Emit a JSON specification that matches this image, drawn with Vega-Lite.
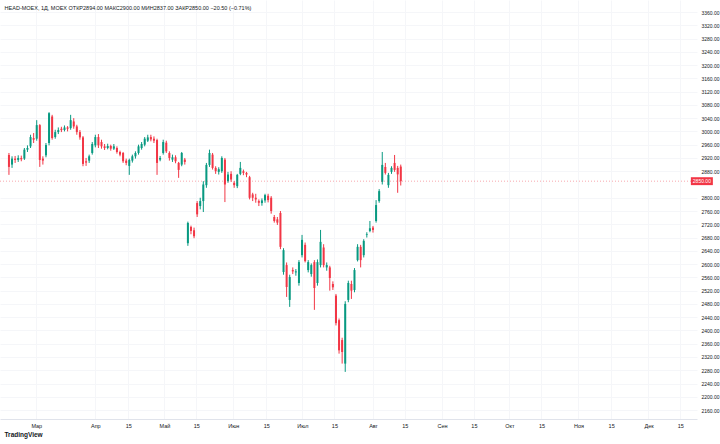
{
 "$schema": "https://vega.github.io/schema/vega-lite/v6.json",
 "width": 697,
 "height": 419,
 "autosize": {"type": "none"},
 "padding": {"left": 0, "top": 0, "right": 23, "bottom": 25},
 "background": "#ffffff",
 "config": {
  "view": {"stroke": null},
  "font": "Liberation Sans",
  "axisX": {"grid": true, "gridColor": "#f5f6f9", "ticks": false, "domain": true, "domainColor": "#e0e3eb", "labelFontSize": 5.5, "labelColor": "#131722", "labelPadding": 4, "labelFlush": false, "labelOverlap": false, "labelBound": false},
  "axisY": {"grid": true, "gridColor": "#f5f6f9", "ticks": false, "domain": false, "labelFontSize": 5, "labelColor": "#131722", "labelPadding": 4, "labelOverlap": false, "labelFlush": false, "labelBound": false}
 },
 "title": {"text": "HEAD-MOEX, 1Д, MOEX  ОТКР2894.00  МАКС2900.00  МИН2837.00  ЗАКР2850.00  −20.50 (−0.71%)", "anchor": "start", "orient": "top", "offset": -11, "dx": 5, "fontSize": 5.5, "fontWeight": "normal", "color": "#131722"},
 "datasets": {
  "candles": [
    {"open":2929,"high":2935,"low":2869,"close":2893},
    {"open":2900,"high":2925,"low":2890,"close":2918},
    {"open":2918,"high":2926,"low":2905,"close":2914},
    {"open":2914,"high":2928,"low":2908,"close":2920},
    {"open":2920,"high":2927,"low":2910,"close":2916},
    {"open":2918,"high":2950,"low":2914,"close":2945},
    {"open":2945,"high":2958,"low":2938,"close":2950},
    {"open":2955,"high":2990,"low":2950,"close":2983},
    {"open":2980,"high":2995,"low":2965,"close":2975},
    {"open":2978,"high":3034,"low":2972,"close":3019},
    {"open":3019,"high":3022,"low":2893,"close":2914},
    {"open":2918,"high":2925,"low":2900,"close":2912},
    {"open":2928,"high":2965,"low":2922,"close":2959},
    {"open":2965,"high":3058,"low":2958,"close":3055},
    {"open":3045,"high":3050,"low":2975,"close":2980},
    {"open":2983,"high":3005,"low":2978,"close":2998},
    {"open":2998,"high":3012,"low":2992,"close":3004},
    {"open":3008,"high":3014,"low":2998,"close":3004},
    {"open":3004,"high":3018,"low":3000,"close":3012},
    {"open":3012,"high":3016,"low":3000,"close":3008},
    {"open":3010,"high":3050,"low":3005,"close":3034},
    {"open":3030,"high":3040,"low":3008,"close":3015},
    {"open":3015,"high":3020,"low":2990,"close":2998},
    {"open":2998,"high":3004,"low":2975,"close":2982},
    {"open":2982,"high":2986,"low":2895,"close":2902},
    {"open":2910,"high":2920,"low":2896,"close":2906},
    {"open":2912,"high":2930,"low":2905,"close":2925},
    {"open":2935,"high":2968,"low":2930,"close":2962},
    {"open":2958,"high":2990,"low":2952,"close":2983},
    {"open":2983,"high":2992,"low":2950,"close":2958},
    {"open":2968,"high":2975,"low":2948,"close":2955},
    {"open":2955,"high":2962,"low":2944,"close":2950},
    {"open":2950,"high":2963,"low":2946,"close":2956},
    {"open":2956,"high":2960,"low":2942,"close":2948},
    {"open":2948,"high":2962,"low":2944,"close":2955},
    {"open":2950,"high":2955,"low":2933,"close":2938},
    {"open":2938,"high":2942,"low":2925,"close":2930},
    {"open":2935,"high":2938,"low":2905,"close":2910},
    {"open":2912,"high":2918,"low":2898,"close":2905},
    {"open":2896,"high":2918,"low":2869,"close":2914},
    {"open":2912,"high":2930,"low":2906,"close":2925},
    {"open":2925,"high":2940,"low":2918,"close":2935},
    {"open":2935,"high":2960,"low":2930,"close":2955},
    {"open":2950,"high":2968,"low":2945,"close":2962},
    {"open":2960,"high":2983,"low":2955,"close":2978},
    {"open":2972,"high":2990,"low":2968,"close":2982},
    {"open":2983,"high":2990,"low":2970,"close":2976},
    {"open":2978,"high":2985,"low":2965,"close":2972},
    {"open":2974,"high":2978,"low":2869,"close":2905},
    {"open":2915,"high":2926,"low":2910,"close":2920},
    {"open":2935,"high":2975,"low":2930,"close":2968},
    {"open":2966,"high":2972,"low":2935,"close":2940},
    {"open":2935,"high":2940,"low":2912,"close":2920},
    {"open":2915,"high":2930,"low":2908,"close":2922},
    {"open":2922,"high":2928,"low":2904,"close":2910},
    {"open":2905,"high":2908,"low":2860,"close":2884},
    {"open":2900,"high":2938,"low":2895,"close":2935},
    {"open":2915,"high":2920,"low":2900,"close":2908},
    {"open":2663,"high":2728,"low":2655,"close":2724},
    {"open":2712,"high":2716,"low":2690,"close":2700},
    {"open":2702,"high":2710,"low":2678,"close":2684},
    {"open":2784,"high":2790,"low":2742,"close":2750},
    {"open":2775,"high":2800,"low":2765,"close":2790},
    {"open":2790,"high":2850,"low":2757,"close":2840},
    {"open":2838,"high":2905,"low":2830,"close":2899},
    {"open":2899,"high":2945,"low":2893,"close":2935},
    {"open":2930,"high":2935,"low":2885,"close":2890},
    {"open":2890,"high":2895,"low":2872,"close":2880},
    {"open":2878,"high":2892,"low":2870,"close":2886},
    {"open":2880,"high":2925,"low":2875,"close":2920},
    {"open":2915,"high":2920,"low":2787,"close":2840},
    {"open":2850,"high":2878,"low":2845,"close":2870},
    {"open":2872,"high":2880,"low":2848,"close":2855},
    {"open":2845,"high":2850,"low":2830,"close":2838},
    {"open":2835,"high":2872,"low":2829,"close":2869},
    {"open":2872,"high":2908,"low":2868,"close":2890},
    {"open":2880,"high":2885,"low":2868,"close":2875},
    {"open":2875,"high":2878,"low":2862,"close":2870},
    {"open":2862,"high":2866,"low":2795,"close":2800},
    {"open":2810,"high":2815,"low":2790,"close":2800},
    {"open":2800,"high":2812,"low":2785,"close":2795},
    {"open":2790,"high":2795,"low":2775,"close":2785},
    {"open":2784,"high":2798,"low":2776,"close":2792},
    {"open":2792,"high":2812,"low":2785,"close":2808},
    {"open":2806,"high":2812,"low":2786,"close":2793},
    {"open":2800,"high":2805,"low":2752,"close":2760},
    {"open":2742,"high":2748,"low":2725,"close":2730},
    {"open":2735,"high":2742,"low":2718,"close":2725},
    {"open":2754,"high":2760,"low":2645,"close":2652},
    {"open":2576,"high":2648,"low":2568,"close":2642},
    {"open":2597,"high":2605,"low":2501,"close":2531},
    {"open":2492,"high":2568,"low":2471,"close":2561},
    {"open":2582,"high":2590,"low":2570,"close":2578},
    {"open":2575,"high":2585,"low":2565,"close":2578},
    {"open":2543,"high":2612,"low":2535,"close":2606},
    {"open":2627,"high":2688,"low":2620,"close":2673},
    {"open":2658,"high":2665,"low":2605,"close":2609},
    {"open":2582,"high":2612,"low":2575,"close":2606},
    {"open":2570,"high":2602,"low":2562,"close":2597},
    {"open":2606,"high":2612,"low":2462,"close":2528},
    {"open":2543,"high":2614,"low":2535,"close":2606},
    {"open":2597,"high":2703,"low":2590,"close":2667},
    {"open":2650,"high":2660,"low":2590,"close":2597},
    {"open":2590,"high":2605,"low":2580,"close":2597},
    {"open":2590,"high":2595,"low":2520,"close":2558},
    {"open":2540,"high":2548,"low":2522,"close":2530},
    {"open":2505,"high":2510,"low":2415,"close":2422},
    {"open":2431,"high":2436,"low":2330,"close":2340},
    {"open":2371,"high":2378,"low":2300,"close":2335},
    {"open":2300,"high":2488,"low":2275,"close":2480},
    {"open":2492,"high":2550,"low":2485,"close":2543},
    {"open":2540,"high":2550,"low":2495,"close":2520},
    {"open":2522,"high":2588,"low":2515,"close":2582},
    {"open":2612,"high":2660,"low":2608,"close":2652},
    {"open":2652,"high":2658,"low":2590,"close":2612},
    {"open":2627,"high":2675,"low":2620,"close":2670},
    {"open":2688,"high":2696,"low":2680,"close":2690},
    {"open":2700,"high":2730,"low":2696,"close":2708},
    {"open":2710,"high":2715,"low":2695,"close":2703},
    {"open":2730,"high":2793,"low":2725,"close":2778},
    {"open":2790,"high":2826,"low":2785,"close":2820},
    {"open":2848,"high":2938,"low":2840,"close":2899},
    {"open":2893,"high":2905,"low":2870,"close":2875},
    {"open":2838,"high":2875,"low":2830,"close":2869},
    {"open":2878,"high":2895,"low":2872,"close":2890},
    {"open":2905,"high":2929,"low":2878,"close":2884},
    {"open":2890,"high":2896,"low":2815,"close":2870.5},
    {"open":2894,"high":2900,"low":2837,"close":2850}
  ],
  "last": [{"price": 2850}]
 },
 "resolve": {"axis": {"x": "independent", "y": "independent"}},
 "layer": [
  {
   "data": {"name": "candles"},
   "transform": [{"window": [{"op": "row_number", "as": "n"}]}],
   "mark": {"type": "rule", "strokeWidth": 1},
   "encoding": {
    "x": {"field": "n", "type": "quantitative",
     "scale": {"domain": [-0.28, 222.4], "nice": false, "zero": false},
     "axis": {
      "values": [9.85, 29, 39.66, 51.4, 61.7, 73.7, 84.4, 96.1, 106.5, 119, 129.3, 141.35, 151.7, 163.2, 173.6, 185.6, 196.2, 208.3, 218.6],
      "labelExpr": "datum.value==9.85?'Мар':datum.value==29?'Апр':datum.value==51.4?'Май':datum.value==73.7?'Июн':datum.value==96.1?'Июл':datum.value==119?'Авг':datum.value==141.35?'Сен':datum.value==163.2?'Окт':datum.value==185.6?'Ноя':datum.value==208.3?'Дек':'15'",
      "labelOverlap": false,
      "title": "TradingView", "titleAnchor": "start", "titleAlign": "left", "titleX": 4,
      "titleFontSize": 6.5, "titleFontWeight": "bold", "titleColor": "#131722", "titlePadding": 3
     }},
    "y": {"field": "low", "type": "quantitative",
     "scale": {"domain": [2133, 3396.2], "nice": false, "zero": false},
     "axis": {
      "orient": "right",
      "values": [2160,2200,2240,2280,2320,2360,2400,2440,2480,2520,2560,2600,2640,2680,2720,2760,2800,2880,2920,2960,3000,3040,3080,3120,3160,3200,3240,3280,3320,3360],
      "format": ".2f", "title": null, "labelOverlap": false
     }},
    "y2": {"field": "high"},
    "color": {"condition": {"test": "datum.close >= datum.open", "value": "#089981"}, "value": "#f23645"}
   }
  },
  {
   "data": {"name": "candles"},
   "transform": [{"window": [{"op": "row_number", "as": "n"}]}],
   "mark": {"type": "bar", "size": 2},
   "encoding": {
    "x": {"field": "n", "type": "quantitative", "axis": null},
    "y": {"field": "open", "type": "quantitative", "axis": null},
    "y2": {"field": "close"},
    "color": {"condition": {"test": "datum.close >= datum.open", "value": "#089981"}, "value": "#f23645"}
   }
  },
  {
   "data": {"name": "last"},
   "mark": {"type": "rule", "color": "#f23645", "strokeDash": [1, 2], "strokeWidth": 0.8, "opacity": 0.55},
   "encoding": {"y": {"field": "price", "type": "quantitative", "axis": null}}
  },
  {
   "data": {"name": "last"},
   "mark": {"type": "point", "shape": "M-1,-0.36L1,-0.36L1,0.36L-1,0.36Z", "filled": true, "color": "#f23645", "opacity": 1, "size": 484},
   "encoding": {"x": {"datum": 225.6, "axis": null}, "y": {"field": "price", "type": "quantitative", "axis": null}}
  },
  {
   "data": {"name": "last"},
   "mark": {"type": "text", "color": "#ffffff", "fontSize": 5, "align": "center", "baseline": "middle"},
   "encoding": {"x": {"datum": 225.6, "axis": null}, "y": {"field": "price", "type": "quantitative", "axis": null}, "text": {"field": "price", "type": "quantitative", "format": ".2f"}}
  }
 ]
}
